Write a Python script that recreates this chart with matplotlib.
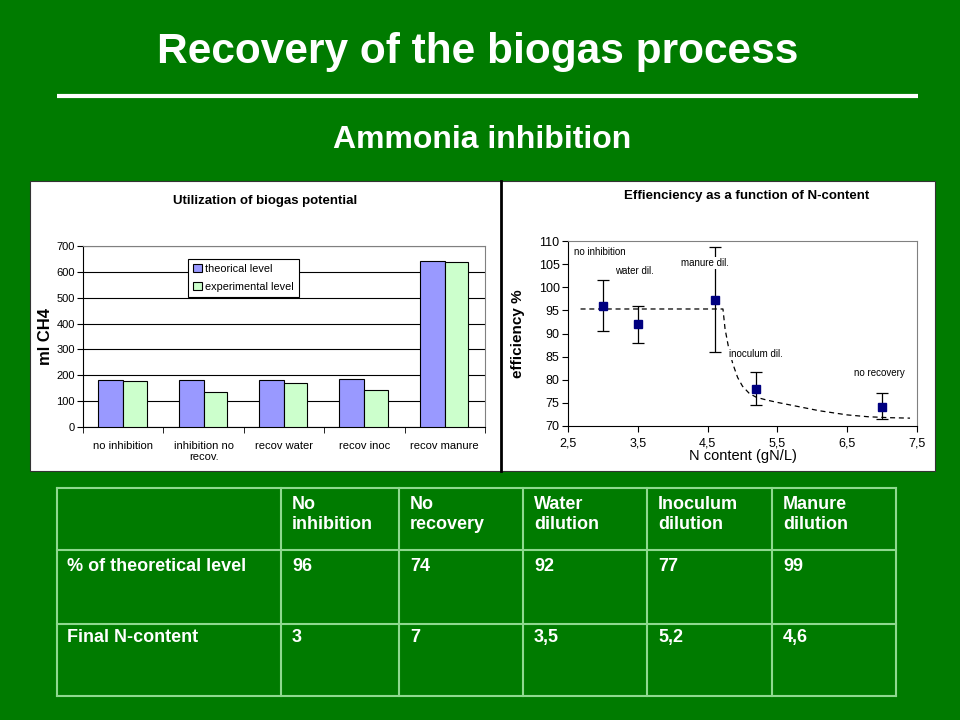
import matplotlib
matplotlib.use('Agg')
import matplotlib.pyplot as plt
from matplotlib.patches import Rectangle

plt.rcParams['font.family'] = ['Liberation Sans', 'DejaVu Sans']

# bar chart data
categories = ['no inhibition', 'inhibition no\nrecov.', 'recov water', 'recov inoc', 'recov manure']
theorical = [183, 183, 183, 187, 643]
experimental = [179, 137, 171, 144, 638]

# efficiency chart data
n_content = [3.0, 3.5, 4.6, 5.2, 7.0]
efficiency = [96.0, 92.1, 97.3, 77.9, 74.2]
err_low = [5.5, 4.2, 11.4, 3.4, 2.7]
err_high = [5.5, 3.9, 11.3, 3.7, 2.9]
point_labels = ['no inhibition', 'water dil.', 'manure dil.', 'inoculum dil.', 'no recovery']
label_pos = [(2.59, 107.7), (3.18, 103.6), (4.12, 105.3), (4.81, 85.6), (6.6, 81.4)]
fit_x = [2.68, 4.72, 4.75, 4.8, 4.86, 4.93, 5.0, 5.1, 5.2, 5.35, 5.5, 5.8, 6.1, 6.5, 6.8, 7.1, 7.4]
fit_y = [95.3, 95.3, 91.0, 87.0, 83.5, 80.5, 78.6, 77.0, 76.2, 75.6, 75.1, 74.2, 73.3, 72.4, 72.0, 71.8, 71.7]

# table data
col_headers = ['No\ninhibition', 'No\nrecovery', 'Water\ndilution', 'Inoculum\ndilution', 'Manure\ndilution']
row_names = ['% of theoretical level', 'Final N-content']
pct_theoretical = ['96', '74', '92', '77', '99']
final_n = ['3', '7', '3,5', '5,2', '4,6']

GREEN = '#007B00'
W, H = 960, 720
fig = plt.figure(figsize=(9.6, 7.2), dpi=100, facecolor=GREEN)


def px_axes(x0, y0, x1, y1, **kw):
    return fig.add_axes([x0 / W, 1 - y1 / H, (x1 - x0) / W, (y1 - y0) / H], **kw)


# background overlay in pixel coordinates
bg = px_axes(0, 0, W, H)
bg.set_xlim(0, W)
bg.set_ylim(H, 0)
bg.axis('off')
bg.patch.set_alpha(0)

bg.text(478, 63, 'Recovery of the biogas process', color='white', fontsize=30.5,
        fontweight='bold', ha='center', va='baseline')
bg.plot([57, 918], [96, 96], color='white', lw=3, solid_capstyle='butt')
bg.text(482, 148, 'Ammonia inhibition', color='white', fontsize=23,
        fontweight='bold', ha='center', va='baseline')

# white panel for the two charts
bg.add_patch(Rectangle((30, 181), 905, 290, facecolor='white', edgecolor='#333333', lw=0.8))
bg.plot([501, 501], [181, 471], color='black', lw=2)

# table
tcol = '#8FD88F'
col_x = [57, 281, 399, 523, 647, 772, 896]
row_y = [488, 550, 624, 696]
for x in col_x:
    bg.plot([x, x], [row_y[0], row_y[-1]], color=tcol, lw=1.5)
for y in row_y:
    bg.plot([col_x[0], col_x[-1]], [y, y], color=tcol, lw=1.5)
tkw = dict(color='white', fontsize=13, fontweight='bold', va='top', ha='left', linespacing=1.22)
for i, h in enumerate(col_headers):
    bg.text(col_x[i + 1] + 11, 496, h, **tkw)
bg.text(col_x[0] + 10, 558, row_names[0], **tkw)
bg.text(col_x[0] + 10, 629, row_names[1], **tkw)
for i in range(5):
    bg.text(col_x[i + 1] + 11, 558, pct_theoretical[i], **tkw)
    bg.text(col_x[i + 1] + 11, 629, final_n[i], **tkw)

# left: bar chart
ax1 = px_axes(83, 246, 485, 427)
xs = list(range(len(categories)))
ax1.bar([x - 0.155 for x in xs], theorical, width=0.31, color='#9999FF', edgecolor='black', lw=0.8,
        label='theorical level', zorder=3)
ax1.bar([x + 0.145 for x in xs], experimental, width=0.29, color='#CCFFCC', edgecolor='black', lw=0.8,
        label='experimental level', zorder=3)
ax1.set_xlim(-0.5, 4.5)
ax1.set_ylim(0, 700)
ax1.set_yticks(range(0, 701, 100))
ax1.yaxis.grid(True, color='black', lw=0.8, zorder=0)
ax1.set_xticks(xs)
ax1.set_xticklabels(categories, fontsize=8)
ax1.set_xticks([x - 0.5 for x in range(6)], minor=True)
ax1.tick_params(axis='x', which='major', length=0, pad=10)
ax1.tick_params(axis='x', which='minor', length=4, direction='out')
ax1.tick_params(axis='y', labelsize=8, length=4, direction='out', pad=2)
for s in ['top', 'right']:
    ax1.spines[s].set_color('#808080')
ax1.set_ylabel('ml CH4', fontsize=12, fontweight='bold')
ax1.yaxis.set_label_coords(-0.075, 0.5)
leg = ax1.legend(loc='upper left', bbox_to_anchor=(0.248, 0.96), fontsize=7.8, frameon=True,
                 fancybox=False, edgecolor='black', framealpha=1, handlelength=0.8,
                 handleheight=0.8, handletextpad=0.3, borderpad=0.45, labelspacing=0.75)
leg.get_frame().set_linewidth(0.8)
bg.text(265, 201, 'Utilization of biogas potential', fontsize=9.5, fontweight='bold',
        ha='center', va='center')

# right: efficiency vs N-content
ax2 = px_axes(568, 241, 917, 426)
ax2.plot(fit_x, fit_y, color='black', lw=0.9, dashes=(4, 3), zorder=2)
ax2.errorbar(n_content, efficiency, yerr=[err_low, err_high], fmt='s', color='#000080',
             ecolor='black', elinewidth=0.9, capsize=4, capthick=0.9, markersize=6, zorder=3)
for lab, (lx, ly) in zip(point_labels, label_pos):
    ax2.text(lx, ly, lab, fontsize=7, ha='left', va='center', zorder=5,
             bbox=dict(facecolor='white', edgecolor='none', pad=0.6))
ax2.set_xlim(2.5, 7.5)
ax2.set_ylim(70, 110)
ax2.set_xticks([2.5, 3.5, 4.5, 5.5, 6.5, 7.5])
ax2.set_xticklabels(['2,5', '3,5', '4,5', '5,5', '6,5', '7,5'])
ax2.set_yticks(range(70, 111, 5))
ax2.tick_params(labelsize=9, length=4, direction='out')
ax2.tick_params(axis='x', pad=4)
ax2.tick_params(axis='y', pad=2)
for s in ['top', 'right']:
    ax2.spines[s].set_color('#808080')
ax2.set_xlabel('N content (gN/L)', fontsize=10.5, labelpad=0)
ax2.set_ylabel('efficiency %', fontsize=11, fontweight='bold')
ax2.yaxis.set_label_coords(-0.123, 0.5)
bg.text(747, 196, 'Effienciency as a function of N-content', fontsize=9.5, fontweight='bold',
        ha='center', va='center')

fig.savefig('out.png', dpi=100, facecolor=GREEN)
